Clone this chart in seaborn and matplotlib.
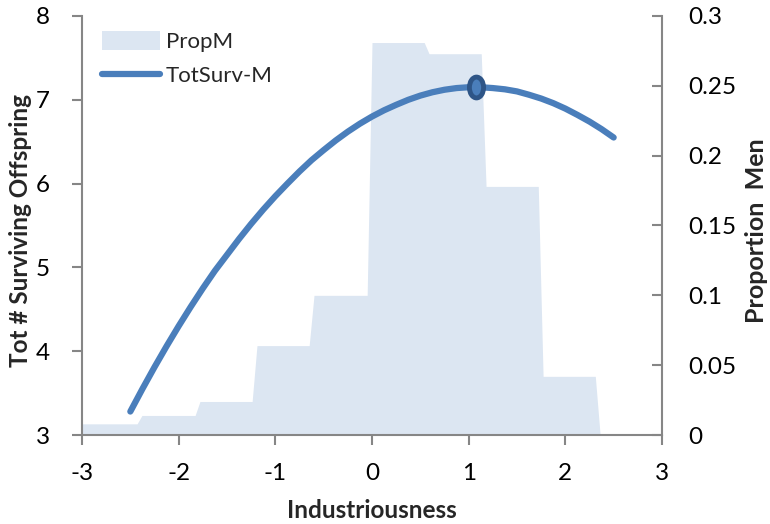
import numpy as np
import pandas as pd
import matplotlib
matplotlib.use("Agg")
import matplotlib.pyplot as plt
import seaborn as sns
from matplotlib.path import Path
from matplotlib.patches import Patch
from matplotlib.lines import Line2D

sns.set_theme(style="white")
plt.rcParams['font.family'] = ['Lato', 'DejaVu Sans']
plt.rcParams['axes.unicode_minus'] = False

# PropM area (right axis), step-like outline
prop_x = [-3.0, -2.43, -2.38, -1.83, -1.78, -1.24, -1.19, -0.65, -0.6,
          -0.05, 0.0, 0.54, 0.59, 1.13, 1.18, 1.72, 1.77, 2.31, 2.36]
prop_y = [0.008, 0.008, 0.014, 0.014, 0.024, 0.024, 0.064, 0.064, 0.1,
          0.1, 0.281, 0.281, 0.273, 0.273, 0.178, 0.178, 0.042, 0.042, 0.0]

# TotSurv-M curve (left axis), read every 0.125
surv_x = [-2.5, -2.375, -2.25, -2.125, -2.0, -1.875, -1.75, -1.625, -1.5,
          -1.375, -1.25, -1.125, -1.0, -0.875, -0.75, -0.625, -0.5, -0.375,
          -0.25, -0.125, 0.0, 0.125, 0.25, 0.375, 0.5, 0.625, 0.75, 0.875,
          1.0, 1.125, 1.25, 1.375, 1.5, 1.625, 1.75, 1.875, 2.0, 2.125,
          2.25, 2.375, 2.5]
surv_y = [3.28, 3.55, 3.81, 4.06, 4.30, 4.53, 4.75, 4.96, 5.15,
          5.34, 5.52, 5.69, 5.85, 6.00, 6.145, 6.28, 6.40, 6.515,
          6.62, 6.715, 6.80, 6.875, 6.94, 7.00, 7.05, 7.09, 7.12, 7.14,
          7.15, 7.15, 7.14, 7.125, 7.10, 7.06, 7.015, 6.96, 6.895, 6.82,
          6.74, 6.65, 6.55]

peak_x = [1.08]
peak_y = [7.15]

x_ticks = [-3, -2, -1, 0, 1, 2, 3]
left_ticks = [3, 4, 5, 6, 7, 8]
right_ticks = [0, 0.05, 0.1, 0.15, 0.2, 0.25, 0.3]
right_labels = ['0', '0.05', '0.1', '0.15', '0.2', '0.25', '0.3']

line_color = '#4a7ebb'
area_color = '#dce6f2'
spine_color = '#868686'

df_prop = pd.DataFrame({'x': prop_x, 'y': prop_y})
df_surv = pd.DataFrame({'x': surv_x, 'y': surv_y})

fig = plt.figure(figsize=(7.7, 5.24), dpi=100)
ax = fig.add_axes([82 / 770, 1 - 435 / 524, 580 / 770, 419 / 524])
ax2 = ax.twinx()

# area on the secondary axis, drawn behind the line
ax2.fill_between(df_prop['x'], 0, df_prop['y'], color=area_color, lw=0)
ax2.set_ylim(0, 0.3)
ax2.set_yticks(right_ticks)
ax2.set_yticklabels(right_labels)

sns.lineplot(data=df_surv, x='x', y='y', ax=ax, color=line_color, lw=4.5,
             solid_capstyle='round', solid_joinstyle='round', sort=False)
ell = Path(Path.unit_circle().vertices * [0.68, 1.0], Path.unit_circle().codes)
ax.plot(peak_x, peak_y, ls='none', marker=ell, ms=15, mfc=line_color,
        mec='#2e5587', mew=3.5)

ax.set_zorder(ax2.get_zorder() + 1)
ax.patch.set_visible(False)

ax.set_xlim(-3, 3)
ax.set_ylim(3, 8)
ax.set_xticks(x_ticks)
ax.set_yticks(left_ticks)

for a in (ax, ax2):
    for s in a.spines.values():
        s.set_color(spine_color)
        s.set_linewidth(1.5)
    a.spines['top'].set_visible(False)
    a.grid(False)

ax.spines['right'].set_visible(False)
ax2.spines['left'].set_visible(False)
ax2.spines['bottom'].set_visible(False)

ax.tick_params(axis='x', direction='out', length=7, width=1.5, color=spine_color,
               labelsize=17.5, pad=13, labelcolor='black', bottom=True)
ax.tick_params(axis='y', direction='out', length=7, width=1.5, color=spine_color,
               labelsize=17.5, pad=16, labelcolor='black', left=True)
ax2.tick_params(axis='y', direction='in', length=7, width=1.5, color=spine_color,
                labelsize=17.5, pad=19, labelcolor='black', right=True)

ax.set_xlabel('Industriousness', fontsize=17.5, fontweight='bold')
ax.set_ylabel('Tot # Surviving Offspring', fontsize=17.5, fontweight='bold')
ax2.set_ylabel('Proportion  Men', fontsize=18, fontweight='bold')
ax.xaxis.label.set_va('center')
ax.yaxis.label.set_va('center')
ax2.yaxis.label.set_va('center')
ax.xaxis.set_label_coords(0.5, (435 - 511) / 419)
ax.yaxis.set_label_coords((21 - 82) / 580, (435 - 231) / 419)
ax2.yaxis.set_label_coords((756 - 82) / 580, (435 - 231) / 419)

handles = [Patch(facecolor=area_color, edgecolor='none'),
           Line2D([], [], color=line_color, lw=4.5, solid_capstyle='round')]
ax.legend(handles, ['PropM', 'TotSurv-M'], loc='upper left',
          bbox_to_anchor=(0.02, 0.985), frameon=False, fontsize=16,
          handlelength=2.6, handleheight=0.9, handletextpad=0.25,
          labelspacing=0.6, borderaxespad=0.0)

fig.savefig('out.png', dpi=100)
